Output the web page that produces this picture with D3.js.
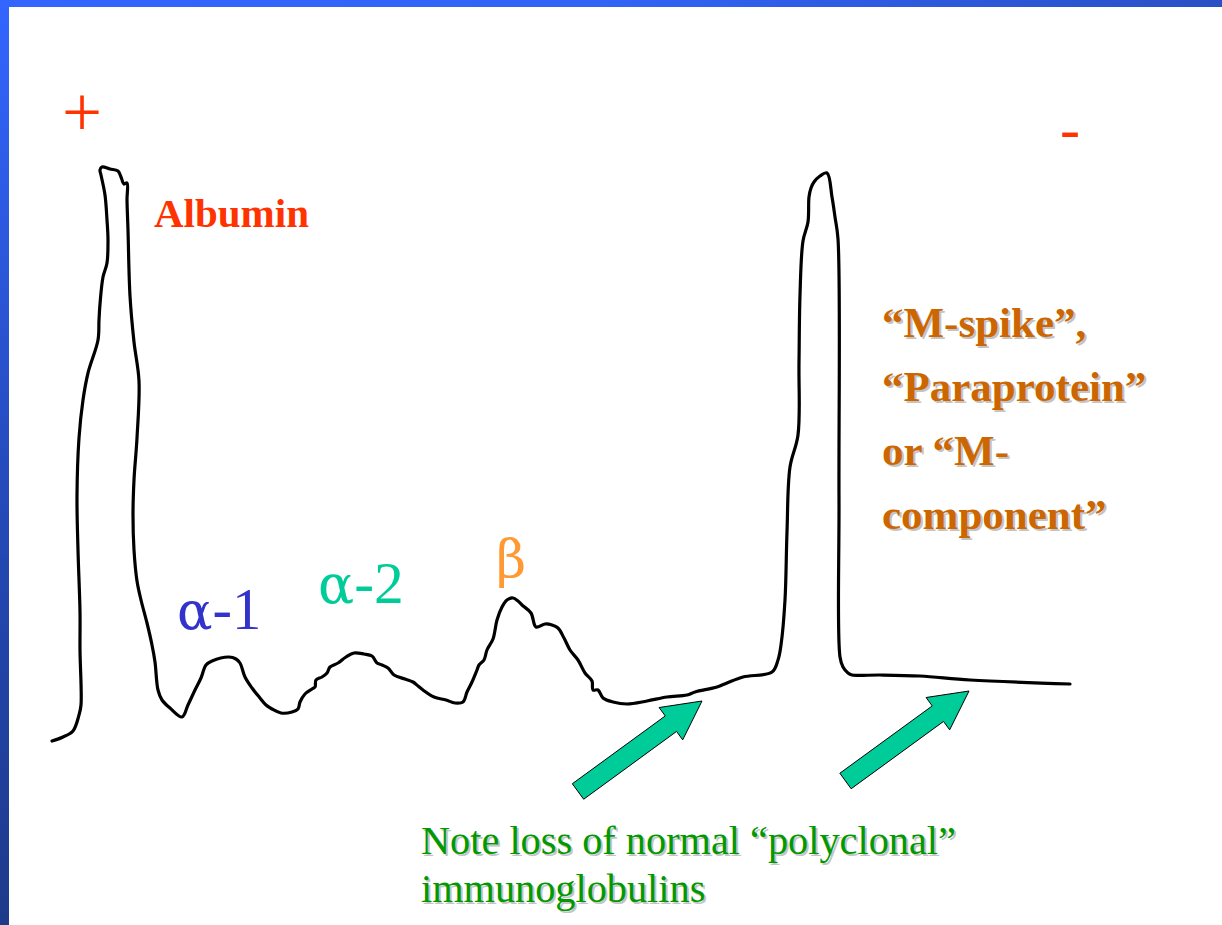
<!DOCTYPE html>
<html><head><meta charset="utf-8">
<script src="https://cdn.jsdelivr.net/npm/d3@7"></script>
<style>html,body{margin:0;padding:0;background:#fff;overflow:hidden}</style>
</head><body>
<svg id="chart" width="1222" height="925"></svg>
<script>
// Densitometer trace (mobility in arbitrary units from the anode, density in arbitrary units)
const mobility = [0,11,21,27,29,28,28,26,25,27,31,36,46,47,48,51,55,56,55,53,49,48,50,58,66,69,72,75,75,76,78,82,87,85,82,81,82,85,89,95,100,103,106,110,118,130,136,143,149,154,160,177,184,188,193,200,208,214,220,229,240,246,248,253,260,263,264,270,275,278,286,294,302,312,320,325,330,336,342,353,361,366,371,382,394,403,411,415,420,425,427,432,435,441,445,450,455,461,466,470,479,484,493,500,506,512,518,526,533,540,541,546,551,561,575,595,615,635,643,665,675,691,720,726,729,733,735,738,746,747,748,751,756,757,759,762,768,775,780,783,786,787,788,791,796,800,828,868,918,1018];
const density = [4,8,14,30,40,95,133,195,249,307,345,372,405,425,441,468,482,505,525,550,570,575,578,576,574,568,561,562,545,515,449,403,364,307,265,230,195,164,145,122,100,83,55,45,37,28,40,55,67,80,84,88,86,82,68,57,47,40,36,32,33,36,43,51,56,58,65,68,72,78,82,88,92,91,89,82,80,77,70,66,63,59,55,48,45,42,43,53,63,75,80,85,95,106,125,138,145,147,144,140,132,118,121,120,117,107,95,85,72,64,55,55,47,43,41,44,48,50,53,58,62,68,73,85,100,145,213,278,310,382,450,504,523,548,557,563,569,572,548,528,506,247,88,78,72,70,70,69,65,61];

// Annotation arrows (tail -> tip, in the same data units)
const arrowTipMobility = [650, 917];
const arrowTipDensity = [44, 54];
const arrowTailMobility = [526, 793.5];
const arrowTailDensity = [-46.5, -36];

// Text labels
const bandGreek = ["α", "α", "β"];
const bandSuffix = ["-1", "-2", ""];
const albuminLabel = "Albumin";
const poleLabels = ["+", "-"];
const mSpikeLines = ["“M-spike”,", "“Paraprotein”", "or “M-", "component”"];
const noteLines = ["Note loss of normal “polyclonal”", "immunoglobulins"];

const W = 1222, H = 925;
const svg = d3.select("#chart");

// slide frame gradients
const defs = svg.append("defs");
const gTop = defs.append("linearGradient").attr("id","gTop").attr("x1","0").attr("x2","1").attr("y1","0").attr("y2","0");
gTop.append("stop").attr("offset","0").attr("stop-color","#3366FF");
gTop.append("stop").attr("offset","0.5").attr("stop-color","#3163F5");
gTop.append("stop").attr("offset","1").attr("stop-color","#2A50C6");
const gLeft = defs.append("linearGradient").attr("id","gLeft").attr("x1","0").attr("x2","0").attr("y1","0").attr("y2","1");
gLeft.append("stop").attr("offset","0").attr("stop-color","#3366FF");
gLeft.append("stop").attr("offset","0.55").attr("stop-color","#2449B8");
gLeft.append("stop").attr("offset","1").attr("stop-color","#1E3A8A");

svg.append("rect").attr("x",0).attr("y",0).attr("width",W).attr("height",H).attr("fill","#fff");
svg.append("rect").attr("x",0).attr("y",0).attr("width",W).attr("height",7).attr("fill","url(#gTop)");
svg.append("rect").attr("x",0).attr("y",0).attr("width",9).attr("height",H).attr("fill","url(#gLeft)");

const x = d3.scaleLinear().domain([0, 1018]).range([52, 1070]);
const y = d3.scaleLinear().domain([0, 580]).range([745, 165]);

const pts = mobility.map((m, i) => [m, density[i]]);
const line = d3.line().x(d => x(d[0])).y(d => y(d[1])).curve(d3.curveCatmullRom.alpha(0.5));

svg.append("path").datum(pts)
  .attr("d", line)
  .attr("fill", "none")
  .attr("stroke", "#000")
  .attr("stroke-width", 3.2)
  .attr("stroke-linejoin", "round")
  .attr("stroke-linecap", "round");

// arrows
const headLen = 38.5, headHalf = 20, shaftHalf = 9.6;
arrowTipMobility.forEach((tm, i) => {
  const T = [x(tm), y(arrowTipDensity[i])];
  const C = [x(arrowTailMobility[i]), y(arrowTailDensity[i])];
  const dx = T[0]-C[0], dy = T[1]-C[1], L = Math.hypot(dx, dy);
  const u = [dx/L, dy/L], n = [-u[1], u[0]];
  const B = [T[0]-u[0]*headLen, T[1]-u[1]*headLen];
  const p = (P, s) => [P[0]+n[0]*s, P[1]+n[1]*s];
  const poly = [p(C, shaftHalf), p(B, shaftHalf), p(B, headHalf), T, p(B, -headHalf), p(B, -shaftHalf), p(C, -shaftHalf)];
  svg.append("polygon")
    .attr("points", poly.map(q => q.join(",")).join(" "))
    .attr("fill", "#00CC99")
    .attr("stroke", "#000")
    .attr("stroke-width", 1)
    .attr("stroke-linejoin", "miter");
});

const serif = "'Liberation Serif', 'Times New Roman', serif";
const greekSerif = "'DejaVu Serif', 'Liberation Serif', serif";
function txt(s, px, py, size, color, weight, shadow) {
  if (shadow) {
    svg.append("text").attr("x", px+2).attr("y", py+2).text(s)
      .attr("font-family", serif).attr("font-size", size).attr("font-weight", weight)
      .attr("fill", "#C4C4C4");
  }
  svg.append("text").attr("x", px).attr("y", py).text(s)
    .attr("font-family", serif).attr("font-size", size).attr("font-weight", weight)
    .attr("fill", color);
}
function greek(g, suf, px, py, size, color) {
  const t = svg.append("text").attr("x", px).attr("y", py).attr("fill", color).attr("font-size", size);
  t.append("tspan").attr("font-family", greekSerif).attr("font-size", size*0.9).text(g);
  if (suf) t.append("tspan").attr("font-family", serif).text(suf);
}

txt(poleLabels[0], 62, 136, 71, "#FF3300", "normal", false);
txt(poleLabels[1], 1060, 149, 60, "#FF3300", "normal", false);
txt(albuminLabel, 154, 227, 41, "#FF3300", "bold", false);
greek(bandGreek[0], bandSuffix[0], 177, 629, 58.5, "#3333CC");
greek(bandGreek[1], bandSuffix[1], 318, 603, 59.5, "#00CC99");
greek(bandGreek[2], bandSuffix[2], 496, 577, 58, "#FF9933");
mSpikeLines.forEach((s, i) => txt(s, 882, 337 + i*64, 43, "#CC6600", "bold", true));
noteLines.forEach((s, i) => txt(s, 421, 854 + i*48, 40.3, "#009900", "normal", true));
</script>
</body></html>
